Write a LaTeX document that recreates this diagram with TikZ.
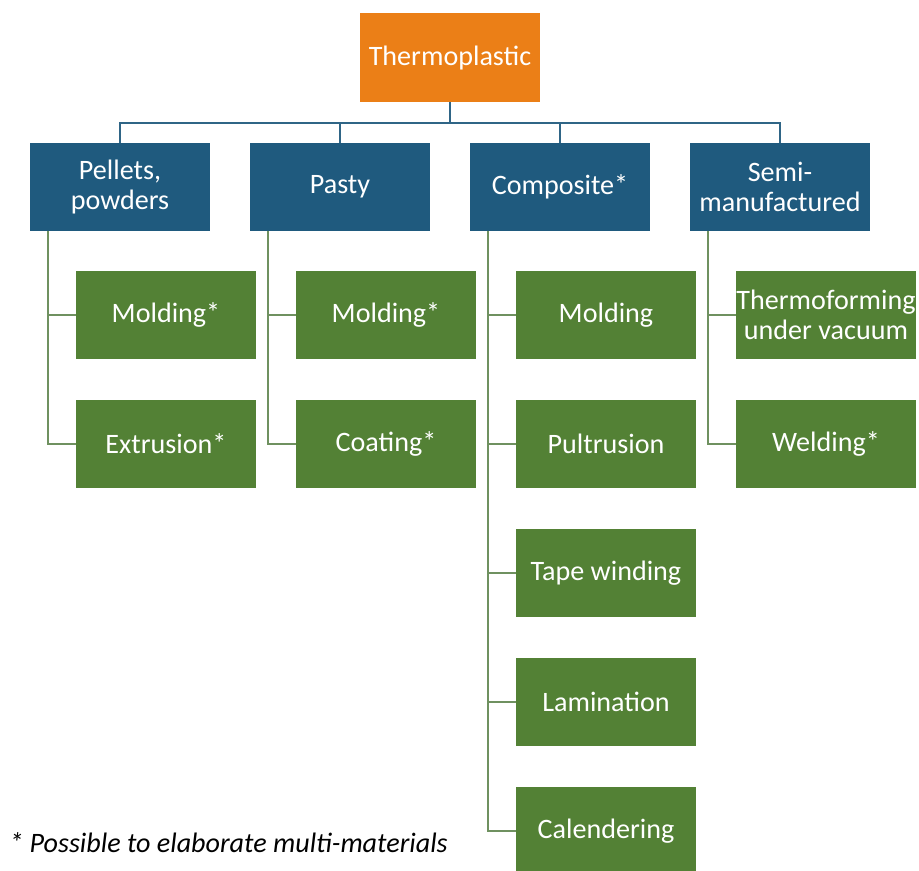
\documentclass[tikz,border=0pt]{standalone}
\usepackage{fontspec}
\setmainfont{Carlito}
\definecolor{thermo}{HTML}{EB7F17}
\definecolor{catblue}{HTML}{1F5A7E}
\definecolor{procgreen}{HTML}{538135}
\definecolor{busline}{HTML}{2F6586}
\definecolor{branchline}{HTML}{6F9160}
\tikzset{
	box/.style={minimum width=3.6cm, minimum height=1.76cm, inner sep=0pt, text=white, align=center,
		font=\fontsize{16}{16.8}\selectfont},
	topbox/.style={box, fill=thermo, minimum height=1.78cm},
	catbox/.style={box, fill=catblue},
	procbox/.style={box, fill=procgreen},
	busedge/.style={draw=busline, line width=1.1pt},
	branchedge/.style={draw=branchline, line width=1.1pt}
}
\begin{document}
\begin{tikzpicture}[x=0.02cm, y=-0.02cm]
	\useasboundingbox (0,0) rectangle (919,870);
	% root
	\node[topbox] (thermo) at (450,57.5) {Thermoplastic};
	% categories
	\node[catbox] (pel) at (120,187) {Pellets,\\powders};
	\node[catbox] (pas) at (340,187) {Pasty};
	\node[catbox] (com) at (560,187) {Composite*};
	\node[catbox] (sem) at (780,187) {Semi-\\manufactured};
	\foreach \c in {pel,pas,com,sem}
		\draw[busedge] (thermo.south) -- ++(0,20.5) -| (\c.north);
	% processes
	\node[procbox] (pelmol) at (166,315) {Molding*};
	\node[procbox] (pelext) at (166,444) {Extrusion*};
	\node[procbox] (pasmol) at (386,315) {Molding*};
	\node[procbox] (pascoa) at (386,444) {Coating*};
	\node[procbox] (commol) at (606,315) {Molding};
	\node[procbox] (compul) at (606,444) {Pultrusion};
	\node[procbox] (comtap) at (606,573) {Tape winding};
	\node[procbox] (comlam) at (606,702) {Lamination};
	\node[procbox] (comcal) at (606,831) {Calendering};
	\node[procbox] (semthe) at (826,315) {Thermoforming\\under vacuum};
	\node[procbox] (semwel) at (826,444) {Welding*};
	% branches
	\foreach \c/\p in {pel/pelmol,pel/pelext,pas/pasmol,pas/pascoa,com/commol,com/compul,
		com/comtap,com/comlam,com/comcal,sem/semthe,sem/semwel}
		\draw[branchedge] (\c.south west) ++(18,0) |- (\p.west);
	% footnote
	\node[anchor=west, inner sep=0pt, font=\fontsize{16}{18}\itshape] (note) at (9,843)
		{* Possible to elaborate multi-materials};
\end{tikzpicture}
\end{document}
